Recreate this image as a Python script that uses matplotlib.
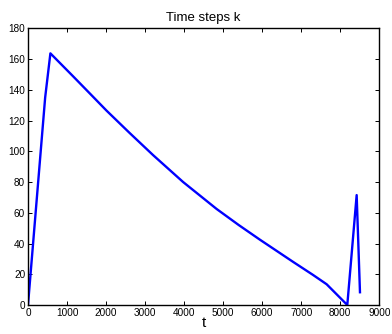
import numpy as np
import matplotlib.pyplot as plt

plt.rcParams['font.family'] = ['Liberation Sans', 'DejaVu Sans']

# values
t = [0, 440, 574, 1154, 1600, 2010, 2600, 3205, 3974, 4831, 5400, 5941, 6795, 7300, 7651, 8180, 8420, 8505]
k = [0, 135, 163.7, 148.8, 137.2, 126.5, 112, 97.5, 80, 62.5, 52, 42.5, 28, 19.6, 13.5, 0, 71.5, 8.3]

xticks = np.arange(0, 9001, 1000)
yticks = np.arange(0, 181, 20)

fig = plt.figure(figsize=(3.92, 3.34), dpi=100)
ax = fig.add_axes([0.0714, 0.0868, 0.8962, 0.8285])

ax.plot(t, k, color='#0000ff', lw=1.7)

ax.set_xlim(0, 9000)
ax.set_ylim(0, 180)
ax.set_xticks(xticks)
ax.set_yticks(yticks)
ax.tick_params(direction='in', top=True, right=True, labelsize=7.2, length=3, width=0.7, pad=2)
for s in ax.spines.values():
    s.set_linewidth(1.0)

ax.set_title('Time steps k', fontsize=9.5, pad=5)
ax.set_xlabel('t', fontsize=11, labelpad=-1)

fig.savefig('out.png', dpi=100)
